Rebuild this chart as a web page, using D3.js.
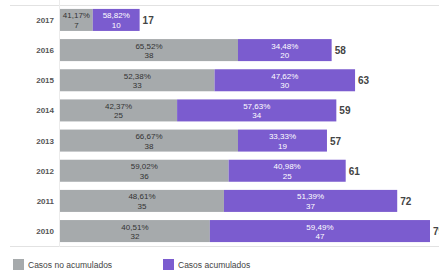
<!DOCTYPE html>
<html>
<head>
<meta charset="utf-8">
<script src="https://cdn.jsdelivr.net/npm/d3@7"></script>
<style>
  body { margin: 0; background: #fff; }
  svg { display: block; font-family: "Liberation Sans", Arial, sans-serif; }
</style>
</head>
<body>
<div id="chart"></div>
<script>
const years = ['2017', '2016', '2015', '2014', '2013', '2012', '2011', '2010'];
const noAcumulados = [7, 38, 33, 25, 38, 36, 35, 32];
const acumulados = [10, 20, 30, 34, 19, 25, 37, 47];
const pctNo = ['41,17%', '65,52%', '52,38%', '42,37%', '66,67%', '59,02%', '48,61%', '40,51%'];
const pctAc = ['58,82%', '34,48%', '47,62%', '57,63%', '33,33%', '40,98%', '51,39%', '59,49%'];
const seriesNames = ['Casos no acumulados', 'Casos acumulados'];
const colors = ['#a6aaac', '#7b5ccf'];

const width = 439, height = 270;
const margin = { top: 5, left: 60, bottom: 23 };

const svg = d3.select('#chart').append('svg')
  .attr('width', width)
  .attr('height', height);

const x = d3.scaleLinear()
  .domain([0, 79])
  .range([margin.left, 430]);

const y = d3.scaleBand()
  .domain(years)
  .range([margin.top, height - margin.bottom - 1])
  .paddingInner(0.27)
  .paddingOuter(0.13);

// frame lines
svg.append('line')
  .attr('x1', 10).attr('x2', width)
  .attr('y1', margin.top + 0.5).attr('y2', margin.top + 0.5)
  .attr('stroke', '#e2e2e2');
svg.append('line')
  .attr('x1', 10).attr('x2', width)
  .attr('y1', height - margin.bottom - 0.5).attr('y2', height - margin.bottom - 0.5)
  .attr('stroke', '#e2e2e2');
svg.append('line')
  .attr('x1', margin.left - 0.5).attr('x2', margin.left - 0.5)
  .attr('y1', 0).attr('y2', height - margin.bottom)
  .attr('stroke', '#ececec');

const rows = years.map((yr, i) => ({
  year: yr, no: noAcumulados[i], ac: acumulados[i], pNo: pctNo[i], pAc: pctAc[i]
}));

const g = svg.selectAll('g.row')
  .data(rows)
  .enter()
  .append('g')
  .attr('class', 'row');

// year labels
g.append('text')
  .attr('x', margin.left - 6)
  .attr('y', d => y(d.year) + y.bandwidth() / 2 + 3)
  .attr('text-anchor', 'end')
  .attr('font-size', 8)
  .attr('font-weight', 'bold')
  .attr('fill', '#555')
  .text(d => d.year);

// grey segment
g.append('rect')
  .attr('x', x(0))
  .attr('y', d => y(d.year))
  .attr('width', d => x(d.no) - x(0))
  .attr('height', y.bandwidth())
  .attr('fill', colors[0]);

// purple segment
g.append('rect')
  .attr('x', d => x(d.no))
  .attr('y', d => y(d.year))
  .attr('width', d => x(d.no + d.ac) - x(d.no))
  .attr('height', y.bandwidth())
  .attr('fill', colors[1]);

function segLabel(sel, cx, txt, col) {
  const t = sel.append('text')
    .attr('text-anchor', 'middle')
    .attr('font-size', 8)
    .attr('fill', col);
  t.append('tspan')
    .attr('x', cx)
    .attr('y', d => y(d.year) + y.bandwidth() / 2 - 1.5)
    .text(d => txt(d)[0]);
  t.append('tspan')
    .attr('x', cx)
    .attr('y', d => y(d.year) + y.bandwidth() / 2 + 8)
    .text(d => txt(d)[1]);
}

segLabel(g, d => (x(0) + x(d.no)) / 2, d => [d.pNo, d.no], '#333');
segLabel(g, d => (x(d.no) + x(d.no + d.ac)) / 2, d => [d.pAc, d.ac], '#fff');

// totals
g.append('text')
  .attr('x', d => x(d.no + d.ac) + 3)
  .attr('y', d => y(d.year) + y.bandwidth() / 2 + 4)
  .attr('font-size', 10)
  .attr('font-weight', 'bold')
  .attr('fill', '#444')
  .text(d => d.no + d.ac);

// legend
const legendX = [13, 163];
const lg = svg.selectAll('g.legend')
  .data(seriesNames)
  .enter()
  .append('g')
  .attr('class', 'legend')
  .attr('transform', (d, i) => `translate(${legendX[i]},259)`);
lg.append('rect')
  .attr('width', 11)
  .attr('height', 11)
  .attr('fill', (d, i) => colors[i]);
lg.append('text')
  .attr('x', 15)
  .attr('y', 9)
  .attr('font-size', 8.5)
  .attr('fill', '#444')
  .text(d => d);
</script>
</body>
</html>
